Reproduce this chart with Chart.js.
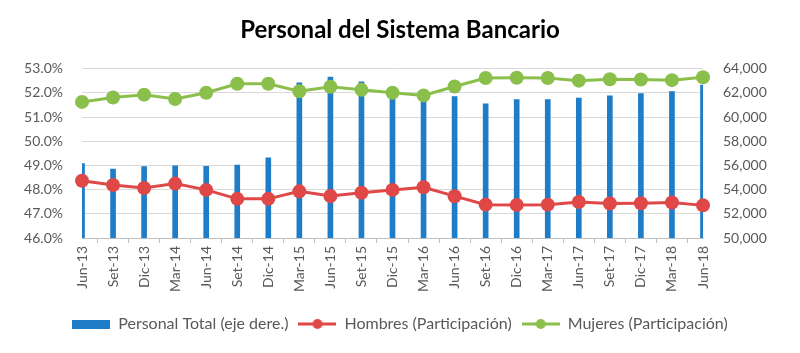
<!DOCTYPE html>
<html>
<head>
    <meta charset="UTF-8" />
    <title>Personal del Sistema Bancario</title>
    <script src="https://cdn.jsdelivr.net/npm/chart.js"></script>
    <style>
        body { margin: 0; background: #fff; }
        #chartBox { width: 800px; height: 353px; }
    </style>
</head>
<body>
    <div id="chartBox">
        <canvas id="bankChart"></canvas>
    </div>

    <script type="text/javascript">
        const labels = ['Jun-13', 'Set-13', 'Dic-13', 'Mar-14', 'Jun-14', 'Set-14', 'Dic-14',
            'Mar-15', 'Jun-15', 'Set-15', 'Dic-15', 'Mar-16', 'Jun-16', 'Set-16', 'Dic-16',
            'Mar-17', 'Jun-17', 'Set-17', 'Dic-17', 'Mar-18', 'Jun-18'];

        // eje derecho
        const personalTotal = [56150, 55700, 55900, 55980, 55920, 56030, 56630,
            62830, 63320, 62930, 62250, 61950, 61710, 61110, 61460,
            61460, 61570, 61760, 61950, 62110, 62660];

        // eje izquierdo (%)
        const hombres = [48.37, 48.19, 48.07, 48.25, 47.99, 47.62, 47.62,
            47.93, 47.74, 47.87, 47.99, 48.10, 47.73, 47.38, 47.37,
            47.38, 47.49, 47.43, 47.44, 47.47, 47.35];
        const mujeres = [51.63, 51.81, 51.93, 51.75, 52.01, 52.38, 52.38,
            52.07, 52.26, 52.13, 52.01, 51.90, 52.27, 52.62, 52.63,
            52.62, 52.51, 52.57, 52.56, 52.53, 52.65];

        const leftTicks = [46, 47, 48, 49, 50, 51, 52, 53];
        const rightTicks = [50000, 52000, 54000, 56000, 58000, 60000, 62000, 64000];

        const BLUE = '#1f7cc6';
        const RED = '#e04848';
        const GREEN = '#8bbf4c';
        const GREY = '#595959';
        const FONT = 'Lato, "Open Sans", sans-serif';

        function legendIcon(color, isBar) {
            const c = document.createElement('canvas');
            c.width = 38;
            c.height = 14;
            const g = c.getContext('2d');
            if (isBar) {
                g.fillStyle = color;
                g.fillRect(0, 3, 38, 9);
            } else {
                g.strokeStyle = color;
                g.lineWidth = 3;
                g.beginPath();
                g.moveTo(0, 7);
                g.lineTo(38, 7);
                g.stroke();
                g.fillStyle = color;
                g.beginPath();
                g.arc(19, 7, 5, 0, Math.PI * 2);
                g.fill();
            }
            return c;
        }

        function initChart() {
            const ctx = document.getElementById('bankChart').getContext('2d');
            const icons = [legendIcon(BLUE, true), legendIcon(RED, false), legendIcon(GREEN, false)];

            new Chart(ctx, {
                data: {
                    labels: labels,
                    datasets: [
                        {
                            type: 'line',
                            label: 'Hombres (Participación)',
                            data: hombres,
                            yAxisID: 'yLeft',
                            borderColor: RED,
                            backgroundColor: RED,
                            borderWidth: 3,
                            pointRadius: 7,
                            pointBorderWidth: 0,
                            pointBackgroundColor: RED,
                            order: 1
                        },
                        {
                            type: 'line',
                            label: 'Mujeres (Participación)',
                            data: mujeres,
                            yAxisID: 'yLeft',
                            borderColor: GREEN,
                            backgroundColor: GREEN,
                            borderWidth: 3,
                            pointRadius: 7,
                            pointBorderWidth: 0,
                            pointBackgroundColor: GREEN,
                            order: 0
                        },
                        {
                            type: 'bar',
                            label: 'Personal Total (eje dere.)',
                            data: personalTotal,
                            yAxisID: 'yRight',
                            backgroundColor: BLUE,
                            barThickness: 5,
                            order: 2
                        }
                    ]
                },
                options: {
                    responsive: true,
                    maintainAspectRatio: false,
                    animation: false,
                    layout: { padding: { left: 0, right: 0, top: 0, bottom: 11 } },
                    plugins: {
                        title: {
                            display: true,
                            text: 'Personal del Sistema Bancario',
                            color: '#000',
                            font: { family: FONT, size: 24, weight: 'bold' },
                            padding: { top: 16, bottom: 24 }
                        },
                        legend: {
                            position: 'bottom',
                            labels: {
                                usePointStyle: true,
                                pointStyleWidth: 38,
                                color: GREY,
                                font: { family: FONT, size: 16 },
                                padding: 10,
                                generateLabels: (chart) => {
                                    const order = [2, 0, 1];
                                    return order.map((i, k) => ({
                                        text: chart.data.datasets[i].label,
                                        fontColor: GREY,
                                        pointStyle: icons[k],
                                        datasetIndex: i,
                                        lineWidth: 0,
                                        hidden: false
                                    }));
                                }
                            }
                        },
                        tooltip: { enabled: false }
                    },
                    scales: {
                        x: {
                            offset: false,
                            grid: {
                                display: true,
                                drawOnChartArea: false,
                                drawTicks: true,
                                tickLength: 5,
                                color: '#bfbfbf'
                            },
                            border: { color: '#bfbfbf' },
                            ticks: {
                                color: GREY,
                                font: { family: FONT, size: 14 },
                                minRotation: 90,
                                maxRotation: 90,
                                autoSkip: false,
                                padding: 3
                            },
                            afterFit: (scale) => { scale.height = 68; }
                        },
                        yLeft: {
                            position: 'left',
                            min: 46,
                            max: 53,
                            afterBuildTicks: (scale) => { scale.ticks = leftTicks.map(v => ({ value: v })); },
                            grid: { color: '#d9d9d9', drawTicks: false },
                            border: { display: false },
                            ticks: {
                                color: GREY,
                                font: { family: FONT, size: 14 },
                                padding: 19,
                                callback: (v) => v.toFixed(1) + '%'
                            },
                            afterFit: (scale) => { scale.width = 82; }
                        },
                        yRight: {
                            position: 'right',
                            min: 50000,
                            max: 64000,
                            afterBuildTicks: (scale) => { scale.ticks = rightTicks.map(v => ({ value: v })); },
                            grid: { display: false, drawTicks: false },
                            border: { display: false },
                            ticks: {
                                color: GREY,
                                font: { family: FONT, size: 14 },
                                padding: 20,
                                callback: (v) => v.toLocaleString('en-US')
                            },
                            afterFit: (scale) => { scale.width = 97; }
                        }
                    }
                }
            });
        }

        window.onload = initChart;
    </script>
</body>
</html>
